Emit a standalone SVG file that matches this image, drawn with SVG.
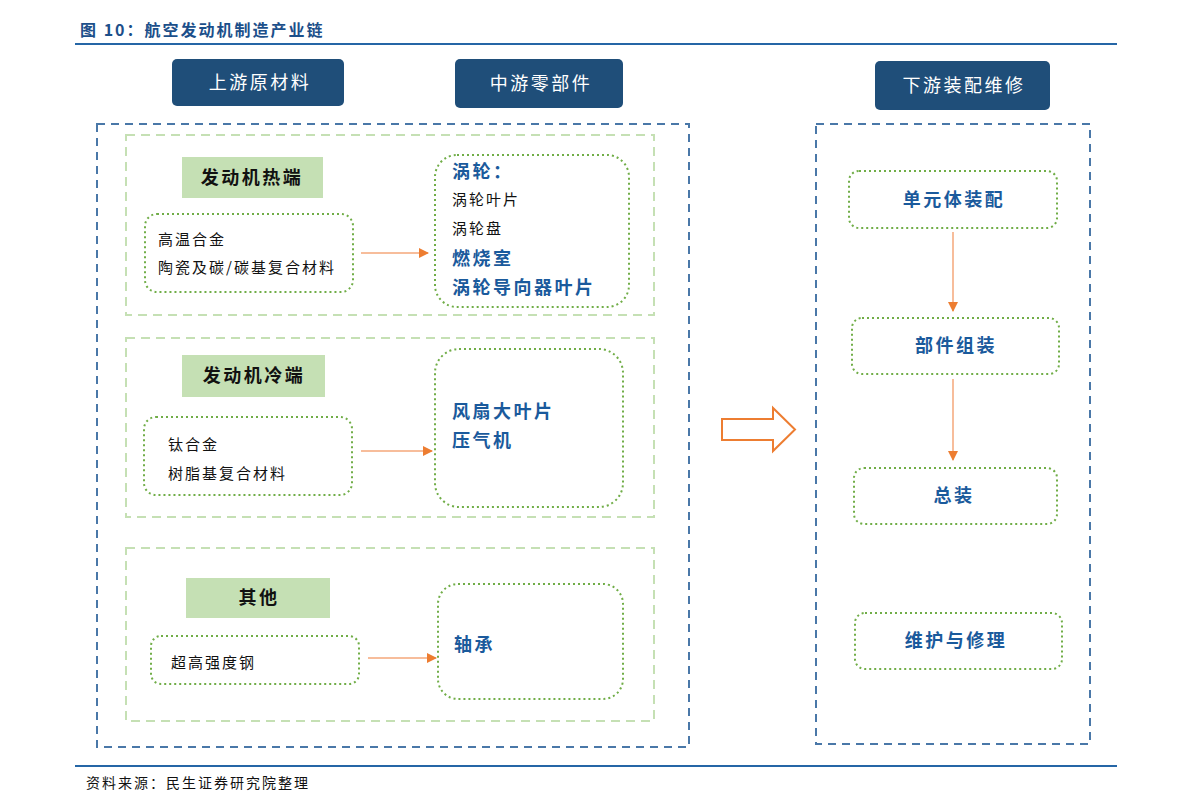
<svg xmlns="http://www.w3.org/2000/svg" width="1191" height="810" viewBox="0 0 1191 810">
<defs>
<style>
text{font-family:"Liberation Serif","Noto Sans CJK SC",serif;}
.hdr{fill:#1f4e79;}
.hdrt{fill:#fff;font-size:18px;text-anchor:middle;letter-spacing:2.5px;font-family:"Noto Sans CJK SC",sans-serif;}
.outer{fill:none;stroke:#4a78a8;stroke-width:2;stroke-dasharray:8 6;}
.inner{fill:none;stroke:#c5e0b4;stroke-width:2;stroke-dasharray:9 6;}
.lab{fill:#c5e0b4;}
.labt{font-size:18px;font-weight:bold;text-anchor:middle;letter-spacing:2.5px;fill:#111;font-family:"Noto Sans CJK SC",sans-serif;}
.dot{fill:none;stroke:#70ad47;stroke-width:2;stroke-dasharray:2 3;}
.t{font-size:15px;fill:#111;letter-spacing:2px;font-family:"Noto Sans CJK SC",sans-serif;}
.b{font-size:18px;font-weight:bold;fill:#1a5a9c;letter-spacing:2.5px;font-family:"Noto Sans CJK SC",sans-serif;}
.bc{font-size:18px;font-weight:bold;fill:#1a5a9c;text-anchor:middle;letter-spacing:2.5px;font-family:"Noto Sans CJK SC",sans-serif;}
.conn{stroke:#f4a77a;stroke-width:1.5;fill:none;}
</style>
<marker id="ah" viewBox="0 0 10 10" refX="9" refY="5" markerWidth="10" markerHeight="10" markerUnits="userSpaceOnUse" orient="auto">
<path d="M0,0 L10,5 L0,10 z" fill="#ed7d31"/>
</marker>
</defs>
<rect width="1191" height="810" fill="#fff"/>
<g id="title">
<text x="80" y="36" style="font-size:16px;font-weight:bold;fill:#1c4f8a;letter-spacing:2px;font-family:'Noto Sans CJK SC',sans-serif;">图 10：航空发动机制造产业链</text>
<line x1="75" y1="44" x2="1117" y2="44" stroke="#2566a6" stroke-width="2"/>
</g>
<g id="footer">
<line x1="75" y1="766" x2="1117" y2="766" stroke="#2566a6" stroke-width="2"/>
<text x="86" y="788" style="font-size:14px;fill:#111;letter-spacing:2px;font-family:'Noto Sans CJK SC',sans-serif;">资料来源：民生证券研究院整理</text>
</g>
<g id="h-up"><rect class="hdr" x="172" y="59" width="172" height="47" rx="5"/><text class="hdrt" x="260" y="89">上游原材料</text></g>
<g id="h-mid"><rect class="hdr" x="455" y="59" width="168" height="49" rx="5"/><text class="hdrt" x="541" y="90">中游零部件</text></g>
<g id="h-down"><rect class="hdr" x="875" y="61" width="175" height="49" rx="5"/><text class="hdrt" x="964" y="92">下游装配维修</text></g>
<g id="frame-left"><rect class="outer" x="97" y="124" width="592" height="623"/></g>
<g id="frame-right"><rect class="outer" x="816" y="124" width="274" height="620"/></g>
<g id="grp-hot"><rect class="inner" x="126" y="135" width="528" height="180"/>
<rect class="lab" x="182" y="157" width="141" height="41"/><text class="labt" x="252" y="184">发动机热端</text></g>
<g id="grp-cold"><rect class="inner" x="126" y="338" width="528" height="179"/>
<rect class="lab" x="182" y="355" width="143" height="42"/><text class="labt" x="254" y="382">发动机冷端</text></g>
<g id="grp-other"><rect class="inner" x="126" y="548" width="528" height="173"/>
<rect class="lab" x="186" y="578" width="144" height="40"/><text class="labt" x="259" y="604">其他</text></g>
<g id="n-hot-mat"><rect class="dot" x="145" y="214" width="208" height="78" rx="12"/>
<text class="t" x="158" y="245">高温合金</text><text class="t" x="158" y="273">陶瓷及碳/碳基复合材料</text></g>
<g id="n-cold-mat"><rect class="dot" x="144" y="417" width="208" height="78" rx="12"/>
<text class="t" x="168" y="450">钛合金</text><text class="t" x="168" y="479">树脂基复合材料</text></g>
<g id="n-other-mat"><rect class="dot" x="151" y="636" width="208" height="48" rx="10"/>
<text class="t" x="171" y="668">超高强度钢</text></g>
<g id="n-hot-part"><rect class="dot" x="435" y="155" width="194" height="152" rx="22"/>
<text class="b" x="452" y="178">涡轮：</text>
<text class="t" x="452" y="205">涡轮叶片</text>
<text class="t" x="452" y="234">涡轮盘</text>
<text class="b" x="452" y="265">燃烧室</text>
<text class="b" x="452" y="294">涡轮导向器叶片</text></g>
<g id="n-cold-part"><rect class="dot" x="435" y="349" width="188" height="158" rx="24"/>
<text class="b" x="452" y="418">风扇大叶片</text><text class="b" x="452" y="447">压气机</text></g>
<g id="n-other-part"><rect class="dot" x="438" y="584" width="185" height="115" rx="20"/>
<text class="b" x="454" y="651">轴承</text></g>
<g id="n-unit"><rect class="dot" x="849" y="171" width="208" height="57" rx="10"/><text class="bc" x="954" y="206">单元体装配</text></g>
<g id="n-comp"><rect class="dot" x="852" y="318" width="207" height="56" rx="10"/><text class="bc" x="956" y="352">部件组装</text></g>
<g id="n-final"><rect class="dot" x="854" y="468" width="203" height="56" rx="10"/><text class="bc" x="954" y="502">总装</text></g>
<g id="n-mro"><rect class="dot" x="855" y="613" width="207" height="56" rx="10"/><text class="bc" x="956" y="647">维护与修理</text></g>
<g id="connectors">
<line class="conn" x1="361" y1="253" x2="428" y2="253" marker-end="url(#ah)"/>
<line class="conn" x1="361" y1="451" x2="432" y2="451" marker-end="url(#ah)"/>
<line class="conn" x1="368" y1="658" x2="436" y2="658" marker-end="url(#ah)"/>
<line class="conn" x1="953" y1="232" x2="953" y2="311" marker-end="url(#ah)"/>
<line class="conn" x1="953" y1="379" x2="953" y2="460" marker-end="url(#ah)"/>
<path d="M722,419 L773,419 L773,408 L795,429.5 L773,451 L773,440 L722,440 Z" fill="#fff" stroke="#ed7d31" stroke-width="2"/>
</g>
</svg>
